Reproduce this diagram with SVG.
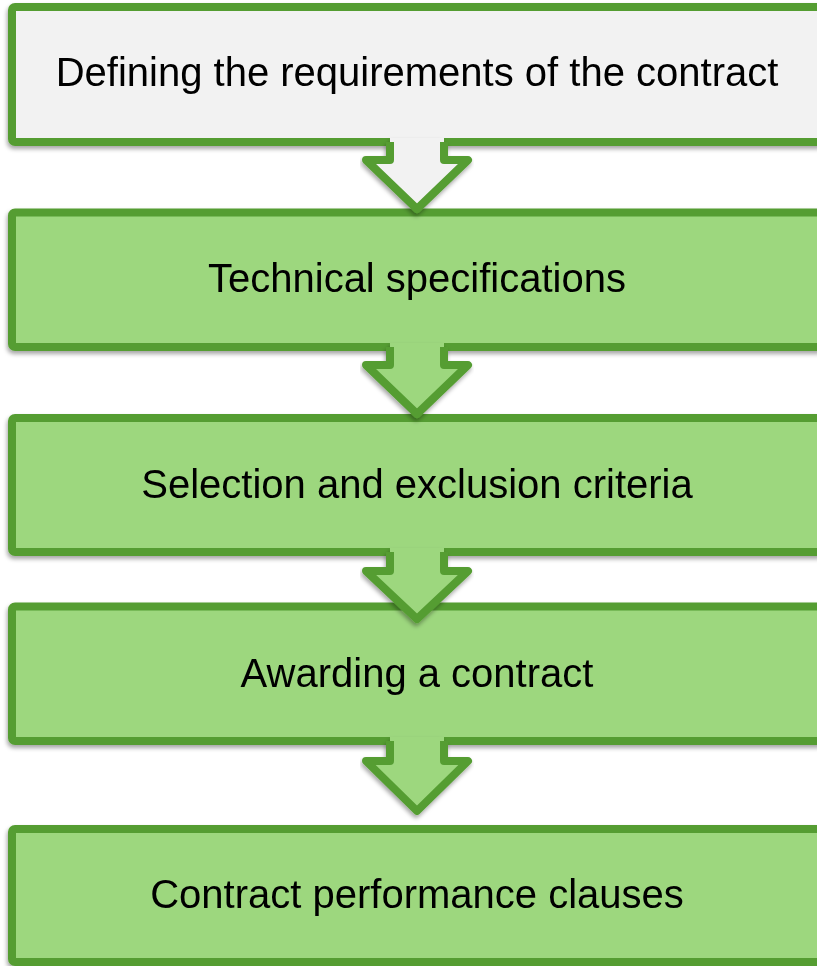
<svg xmlns="http://www.w3.org/2000/svg" width="817" height="966" viewBox="0 0 817 966">
  <defs>
    <filter id="sh" x="-5%" y="-10%" width="110%" height="130%">
      <feDropShadow dx="-1" dy="3" stdDeviation="2" flood-color="#000" flood-opacity="0.35"/>
    </filter>
  </defs>
  <style>
    .box { stroke: #559d33; stroke-width: 8; }
    .g { fill: #9dd77e; }
    .w { fill: #f2f2f2; }
    .lbl { font-family: "Liberation Sans", Arial, sans-serif; font-size: 40px; fill: #000; text-anchor: middle; }
    .af { stroke: none; }
    .as { fill: none; stroke: #559d33; stroke-width: 8; stroke-linejoin: round; }
  </style>
  <rect x="0" y="0" width="817" height="966" fill="#ffffff"/>
  <g id="node1" filter="url(#sh)">
    <rect class="box w" x="12" y="7" width="810" height="135" rx="3"/>
    <text class="lbl" x="417" y="86">Defining the requirements of the contract</text>
  </g>
  <g id="node2" filter="url(#sh)">
    <rect class="box g" x="12" y="212.5" width="810" height="134.5" rx="3"/>
    <text class="lbl" x="417" y="292">Technical specifications</text>
  </g>
  <g id="node3" filter="url(#sh)">
    <rect class="box g" x="12" y="418" width="810" height="134" rx="3"/>
    <text class="lbl" x="417" y="498">Selection and exclusion criteria</text>
  </g>
  <g id="node4" filter="url(#sh)">
    <rect class="box g" x="12" y="606.5" width="810" height="134.5" rx="3"/>
    <text class="lbl" x="417" y="687">Awarding a contract</text>
  </g>
  <g id="node5" filter="url(#sh)">
    <rect class="box g" x="12" y="829" width="810" height="133" rx="3"/>
    <text class="lbl" x="417" y="908">Contract performance clauses</text>
  </g>
  <g id="connectors">
    <g filter="url(#sh)" transform="translate(0,142)">
      <path class="af w" d="M390,-4 L390,18 L366,18 L417,67 L468,18 L444,18 L444,-4 Z"/>
      <path class="as" d="M390,0 L390,18 L366,18 L417,67 L468,18 L444,18 L444,0"/>
    </g>
    <g filter="url(#sh)" transform="translate(0,347)">
      <path class="af g" d="M390,-4 L390,18 L366,18 L417,67 L468,18 L444,18 L444,-4 Z"/>
      <path class="as" d="M390,0 L390,18 L366,18 L417,67 L468,18 L444,18 L444,0"/>
    </g>
    <g filter="url(#sh)" transform="translate(0,552)">
      <path class="af g" d="M390,-4 L390,19 L366,19 L417,67 L468,19 L444,19 L444,-4 Z"/>
      <path class="as" d="M390,0 L390,19 L366,19 L417,67 L468,19 L444,19 L444,0"/>
    </g>
    <g filter="url(#sh)" transform="translate(0,741)">
      <path class="af g" d="M390,-4 L390,20 L366,20 L417,70 L468,20 L444,20 L444,-4 Z"/>
      <path class="as" d="M390,0 L390,20 L366,20 L417,70 L468,20 L444,20 L444,0"/>
    </g>
  </g>
</svg>
